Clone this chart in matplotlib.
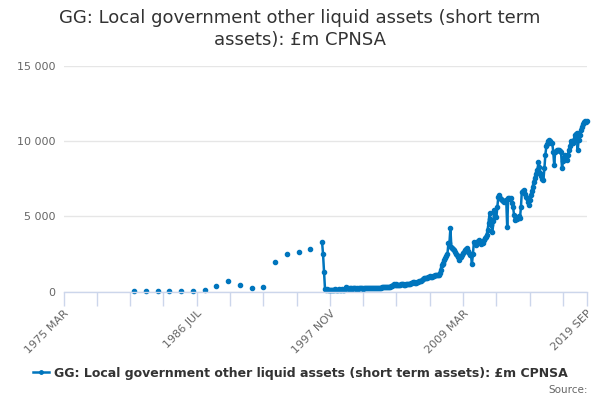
import datetime as dt
import matplotlib
matplotlib.use("Agg")
import matplotlib.pyplot as plt
import matplotlib.dates as mdates
import pandas as pd

TITLE = "GG: Local government other liquid assets (short term assets): £m CPNSA"

# annual observations (March of each year), 1981-1996
annual_years = list(range(1981, 1997))
annual_values = [30, 30, 40, 30, 30, 30, 80, 350, 680, 420, 240, 270,
                 1960, 2470, 2640, 2850]

# monthly observations, 1997 MAR - 2019 SEP
monthly_values = [
    # 1997 Mar-Dec
    3300, 2470, 1270, 150, 130, 140, 120, 110, 130, 120,
    # 1998
    130, 120, 110, 140, 120, 100, 130, 150, 120, 110, 140, 130,
    # 1999
    120, 150, 270, 220, 200, 180, 190, 210, 200, 180, 200, 220,
    # 2000
    200, 190, 210, 180, 200, 220, 230, 210, 190, 200, 210, 220,
    # 2001
    200, 210, 230, 220, 200, 240, 250, 230, 210, 220, 240, 230,
    # 2002
    220, 240, 250, 300, 330, 310, 290, 300, 320, 280, 300, 330,
    # 2003
    350, 380, 420, 490, 460, 480, 450, 420, 400, 410, 450, 490,
    # 2004
    500, 470, 450, 440, 480, 520, 500, 470, 520, 560, 590, 600,
    # 2005
    620, 580, 560, 600, 650, 700, 680, 720, 780, 850, 900, 880,
    # 2006
    900, 920, 950, 980, 1000, 980, 960, 1020, 1050, 1080, 1100, 1130,
    # 2007
    1100, 1090, 1200, 1450, 1750, 1800, 1900, 2100, 2200, 2350, 2500, 3200,
    # 2008
    3200, 4200, 2980, 2900, 2800, 2750, 2600, 2500, 2420, 2300, 2090, 2300,
    # 2009
    2300, 2450, 2550, 2640, 2750, 2800, 2870, 2700, 2550, 2450, 2420, 1820,
    # 2010
    2500, 3310, 3200, 3100, 3250, 3350, 3420, 3300, 3150, 3250, 3200, 3400,
    # 2011
    3550, 3650, 3750, 4100, 4530, 5200, 4800, 4400, 3980, 4700, 5420, 5000,
    # 2012
    4980, 5640, 6310, 6400, 6250, 6130, 6100, 6050, 5980, 6000, 6100, 4310,
    # 2013
    6200, 6250, 6150, 6200, 5900, 5640, 5100, 4760, 4900, 4800, 4870, 5000,
    # 2014
    4870, 5600, 6650, 6700, 6750, 6500, 6300, 6200, 5950, 5760, 6100, 6420,
    # 2015
    6700, 6980, 7300, 7540, 7800, 7950, 8090, 8640, 8300, 7870, 7700, 7500,
    # 2016
    7420, 8200, 9090, 9650, 9800, 9980, 10050, 9980, 9900, 9870, 9300, 8420,
    # 2017
    9310, 9350, 9400, 9420, 9380, 9350, 9310, 8200, 8700, 8980, 9090, 8900,
    # 2018
    8760, 9100, 9420, 9700, 9980, 9900, 9870, 10100, 10420, 10500, 10530, 9420,
    # 2019 Jan-Sep
    10090, 10400, 10760, 10950, 11160, 11250, 11310, 11280, 11350,
]

y_ticks = [0, 5000, 10000, 15000]
y_tick_labels = ["0", "5 000", "10 000", "15 000"]

blue = "#0075bd"
grid = "#e6e6e6"
axis_col = "#ccd6eb"
label_col = "#666666"

annual_dates = [dt.datetime(y, 3, 1) for y in annual_years]
monthly_dates = pd.date_range("1997-03-01", periods=len(monthly_values), freq="MS")

fig = plt.figure(figsize=(6, 4), dpi=100)
ax = fig.add_axes([63.5 / 600, 1 - 291.5 / 400, 523 / 600, 225.5 / 400])

ax.plot(annual_dates, annual_values, linestyle="none", marker="o",
        markersize=3, color=blue, clip_on=False)
line, = ax.plot(monthly_dates, monthly_values, color=blue, linewidth=1.8,
                marker="o", markersize=3, clip_on=False)

start = dt.datetime(1975, 3, 1)
end = dt.datetime(2019, 9, 1)
ax.set_xlim(start, end)
ax.set_ylim(0, 15000)

# ticks every 34 months, label every 4th one, plus the end date
tick_dates = [pd.Timestamp(start) + pd.DateOffset(months=34 * k) for k in range(16)]
tick_dates.append(pd.Timestamp(end))
ax.set_xticks([mdates.date2num(d) for d in tick_dates])
labels = []
for i, d in enumerate(tick_dates):
    if i % 4 == 0 or i == len(tick_dates) - 1:
        labels.append(d.strftime("%Y %b").upper())
    else:
        labels.append("")
ax.set_xticklabels(labels, rotation=45, ha="right", rotation_mode="anchor",
                   fontsize=8, color=label_col)
ax.tick_params(axis="x", length=10, width=1, color=axis_col, pad=2)

ax.set_yticks(y_ticks)
ax.set_yticklabels(y_tick_labels, fontsize=8, color=label_col)
ax.tick_params(axis="y", length=0, pad=6)
ax.grid(axis="y", color=grid, linewidth=1)
ax.set_axisbelow(True)

for s in ["top", "right", "left"]:
    ax.spines[s].set_visible(False)
ax.spines["bottom"].set_color(axis_col)
ax.spines["bottom"].set_linewidth(1)

fig.text(0.5, 1 - 18 / 400, "GG: Local government other liquid assets (short term",
         ha="center", va="center", fontsize=13, color="#333333")
fig.text(0.5, 1 - 40 / 400, "assets): £m CPNSA",
         ha="center", va="center", fontsize=13, color="#333333")

leg = fig.legend([line], [TITLE], loc="center", bbox_to_anchor=(0.5, 1 - 373 / 400),
                 frameon=False, handlelength=1.3, handletextpad=0.4,
                 prop={"size": 9, "weight": "bold"})
for t in leg.get_texts():
    t.set_color("#333333")
leg.legend_handles[0].set_markersize(2.5)

fig.text(588 / 600, 1 - 390 / 400, "Source:", ha="right", va="center",
         fontsize=7.5, color=label_col)

fig.savefig("out.png", dpi=100)
